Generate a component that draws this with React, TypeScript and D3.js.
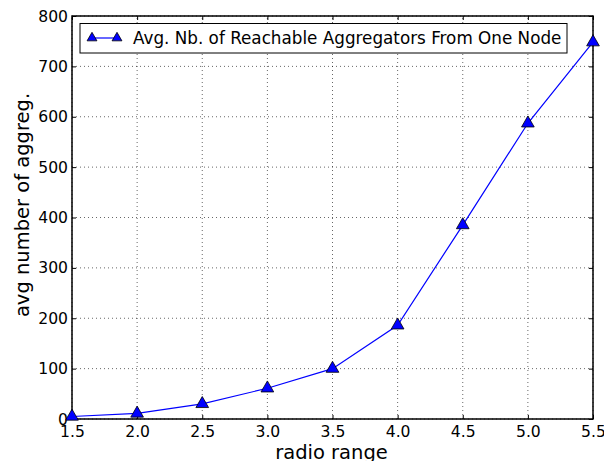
import * as d3 from 'd3';
import { useEffect, useRef } from 'react';

const radioRange = [1.5, 2.0, 2.5, 3.0, 3.5, 4.0, 4.5, 5.0, 5.5];
const avgAggregators = [5, 11, 30, 61, 100, 186, 385, 587, 748];
const xTicks = [1.5, 2.0, 2.5, 3.0, 3.5, 4.0, 4.5, 5.0, 5.5];
const yTicks = [0, 100, 200, 300, 400, 500, 600, 700, 800];
const seriesName = 'Avg. Nb. of Reachable Aggregators From One Node';

export default function App() {
    const svgRef = useRef<SVGSVGElement>(null);

    useEffect(() => {
        if (!svgRef.current) return;
        const width = 604;
        const height = 461;
        const margin = { top: 16, right: 11, bottom: 42, left: 72 };
        const font = 'DejaVu Sans, sans-serif';

        const svg = d3.select(svgRef.current).attr('width', width).attr('height', height);
        svg.selectAll('*').remove();

        const x = d3.scaleLinear().domain([1.5, 5.5]).range([margin.left, width - margin.right]);
        const y = d3.scaleLinear().domain([0, 800]).range([height - margin.bottom, margin.top]);

        const [x0, x1] = x.range();
        const [y0, y1] = y.range();

        // grid (dotted)
        const grid = svg.append('g');
        grid.selectAll('line.gx')
            .data(xTicks)
            .join('line')
            .attr('class', 'gx')
            .attr('x1', (d) => x(d)).attr('x2', (d) => x(d))
            .attr('y1', y0).attr('y2', y1)
            .attr('stroke', '#000').attr('stroke-width', 0.6).attr('stroke-dasharray', '1,3');
        grid.selectAll('line.gy')
            .data(yTicks)
            .join('line')
            .attr('class', 'gy')
            .attr('x1', x0).attr('x2', x1)
            .attr('y1', (d) => y(d)).attr('y2', (d) => y(d))
            .attr('stroke', '#000').attr('stroke-width', 0.6).attr('stroke-dasharray', '1,3');

        // axes with inward ticks on all sides
        const bottom = svg.append('g').attr('transform', `translate(0,${y0})`)
            .call(d3.axisBottom(x).tickValues(xTicks).tickFormat(d3.format('.1f')).tickSizeInner(-4).tickSizeOuter(0).tickPadding(7));
        const top = svg.append('g').attr('transform', `translate(0,${y1})`)
            .call(d3.axisTop(x).tickValues(xTicks).tickSizeInner(-4).tickSizeOuter(0).tickFormat(() => ''));
        const left = svg.append('g').attr('transform', `translate(${x0},0)`)
            .call(d3.axisLeft(y).tickValues(yTicks).tickSizeInner(-4).tickSizeOuter(0).tickPadding(4));
        const right = svg.append('g').attr('transform', `translate(${x1},0)`)
            .call(d3.axisRight(y).tickValues(yTicks).tickSizeInner(-4).tickSizeOuter(0).tickFormat(() => ''));

        [bottom, top, left, right].forEach((g) => {
            g.select('.domain').remove();
            g.selectAll('.tick line').attr('stroke', '#000').attr('stroke-width', 1);
            g.selectAll('text').attr('fill', '#000').attr('font-size', '15.6px').attr('font-family', font);
        });
        bottom.selectAll('text').attr('dy', '0.71em');

        // frame
        svg.append('rect')
            .attr('x', x0).attr('y', y1)
            .attr('width', x1 - x0).attr('height', y0 - y1)
            .attr('fill', 'none').attr('stroke', '#000').attr('stroke-width', 1.5);

        // line + markers
        const pts = radioRange.map((r, i) => [r, avgAggregators[i]] as [number, number]);
        const line = d3.line<[number, number]>().x((d) => x(d[0])).y((d) => y(d[1]));
        svg.append('path').datum(pts)
            .attr('d', line)
            .attr('fill', 'none').attr('stroke', '#0000ff').attr('stroke-width', 1.2);

        const tri = d3.symbol().type(d3.symbolTriangle).size(70);
        const triSmall = d3.symbol().type(d3.symbolTriangle).size(42);
        svg.selectAll('path.mk')
            .data(pts)
            .join('path')
            .attr('class', 'mk')
            .attr('d', tri)
            .attr('transform', (d) => `translate(${x(d[0])},${y(d[1])})`)
            .attr('fill', '#0000ff').attr('stroke', '#000').attr('stroke-width', 0.8);

        // legend
        const lg = svg.append('g');
        lg.append('rect')
            .attr('x', 80).attr('y', 23.5).attr('width', 487).attr('height', 29.5)
            .attr('fill', '#fff').attr('stroke', '#000').attr('stroke-width', 1);
        lg.append('line')
            .attr('x1', 92).attr('x2', 117).attr('y1', 38).attr('y2', 38)
            .attr('stroke', '#0000ff').attr('stroke-width', 1.2);
        [92, 117].forEach((cx) => {
            lg.append('path').attr('d', triSmall)
                .attr('transform', `translate(${cx},38)`)
                .attr('fill', '#0000ff').attr('stroke', '#000').attr('stroke-width', 0.8);
        });
        lg.append('text')
            .attr('x', 133).attr('y', 38).attr('dy', '0.36em')
            .attr('font-size', '16.8px').attr('font-family', font)
            .text(seriesName);

        // axis titles
        svg.append('text')
            .attr('x', (x0 + x1) / 2 - 1).attr('y', 459)
            .attr('text-anchor', 'middle').attr('font-size', '19.5px').attr('font-family', font)
            .text('radio range');
        svg.append('text')
            .attr('transform', `translate(29,205) rotate(-90)`)
            .attr('text-anchor', 'middle').attr('font-size', '19.5px').attr('font-family', font)
            .text('avg number of aggreg.');
    }, []);

    return <svg ref={svgRef} style={{ position: 'absolute', left: 0, top: 0 }} />;
}
